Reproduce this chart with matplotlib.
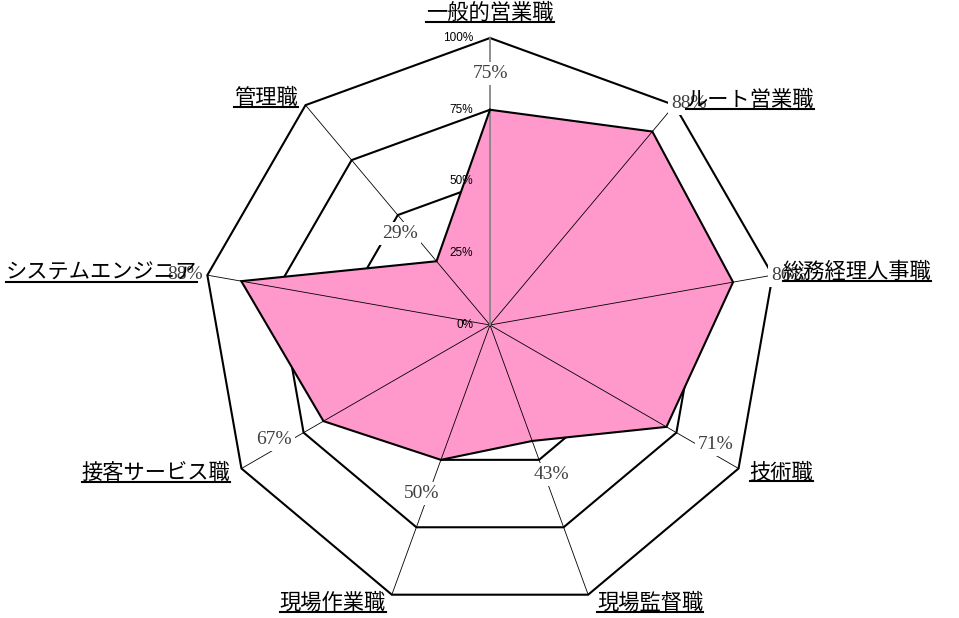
import numpy as np
import matplotlib.pyplot as plt
from matplotlib.lines import Line2D

categories = ['一般的営業職', 'ルート営業職', '総務経理人事職', '技術職', '現場監督職',
              '現場作業職', '接客サービス職', 'システムエンジニア', '管理職']
values = [75, 88, 86, 71, 43, 50, 67, 88, 29]
levels = [0, 25, 50, 75, 100]
level_labels = ['0%', '25%', '50%', '75%', '100%']

# category label placement: (ha, dx, dy) in pixels from the outer vertex
cat_pos = [('center', 0, 25), ('left', 12, 5), ('left', 10, 3), ('left', 11, -4),
           ('left', 9, -8), ('right', -6, -8), ('right', -11, -4), ('right', -10, 2),
           ('right', -8, 7)]

n = len(categories)
theta = np.pi / 2 - 2 * np.pi * np.arange(n) / n
cx, cy = np.cos(theta), np.sin(theta)

fig = plt.figure(figsize=(9.59, 6.18), dpi=100)
ax = fig.add_axes([0, 0, 1, 1])
R = 287  # pixels for 100%
ax.set_xlim(-490 / R, (959 - 490) / R)
ax.set_ylim((325 - 618) / R, 325 / R)
ax.axis('off')

# polygon grid rings
for lv in levels[1:]:
    k = lv / 100
    ax.plot(np.append(cx, cx[0]) * k, np.append(cy, cy[0]) * k,
            color='black', lw=1.5, zorder=1, solid_joinstyle='miter')

# data polygon
r = np.array(values) / 100
px = np.append(cx * r, cx[0] * r[0])
py = np.append(cy * r, cy[0] * r[0])
ax.fill(px, py, color='#FF99CC', lw=0, zorder=2)

# spokes
for i in range(1, n):
    ax.plot([0, cx[i]], [0, cy[i]], color='black', lw=0.6, zorder=3)
ax.plot([0, 0], [0, 1], color='#868686', lw=1.3, zorder=3)
ax.plot(px, py, color='black', lw=1.5, zorder=4, solid_joinstyle='miter')

# value axis labels
for lv, lab in zip(levels, level_labels):
    ax.annotate(lab, (0, lv / 100), xytext=(-17, 0), textcoords='offset pixels',
                ha='right', va='center', fontsize=8.5, family='Liberation Sans',
                color='black', zorder=6)

# data labels
for i in range(n):
    ax.annotate(f'{values[i]}%', (cx[i] * r[i], cy[i] * r[i]),
                xytext=(57 * cx[i], 36 * cy[i]), textcoords='offset pixels',
                ha='center', va='center', fontsize=14, family='Liberation Serif',
                color='#404040', zorder=5,
                bbox=dict(boxstyle='square,pad=0.15', fc='white', ec='none'))

# category labels, underlined
texts = []
for i in range(n):
    ha, dx, dy = cat_pos[i]
    t = ax.annotate(categories[i], (cx[i], cy[i]), xytext=(dx, dy),
                    textcoords='offset pixels', ha=ha, va='center',
                    fontsize=15.3, family='Noto Sans CJK JP', zorder=7)
    texts.append(t)

fig.canvas.draw()
W, H = fig.bbox.width, fig.bbox.height
for t in texts:
    bb = t.get_window_extent()
    yy = (bb.y0 + 2) / H
    fig.add_artist(Line2D([bb.x0 / W, bb.x1 / W], [yy, yy], transform=fig.transFigure,
                          color='black', lw=1.5, zorder=8))

fig.savefig('out.png', dpi=100)
